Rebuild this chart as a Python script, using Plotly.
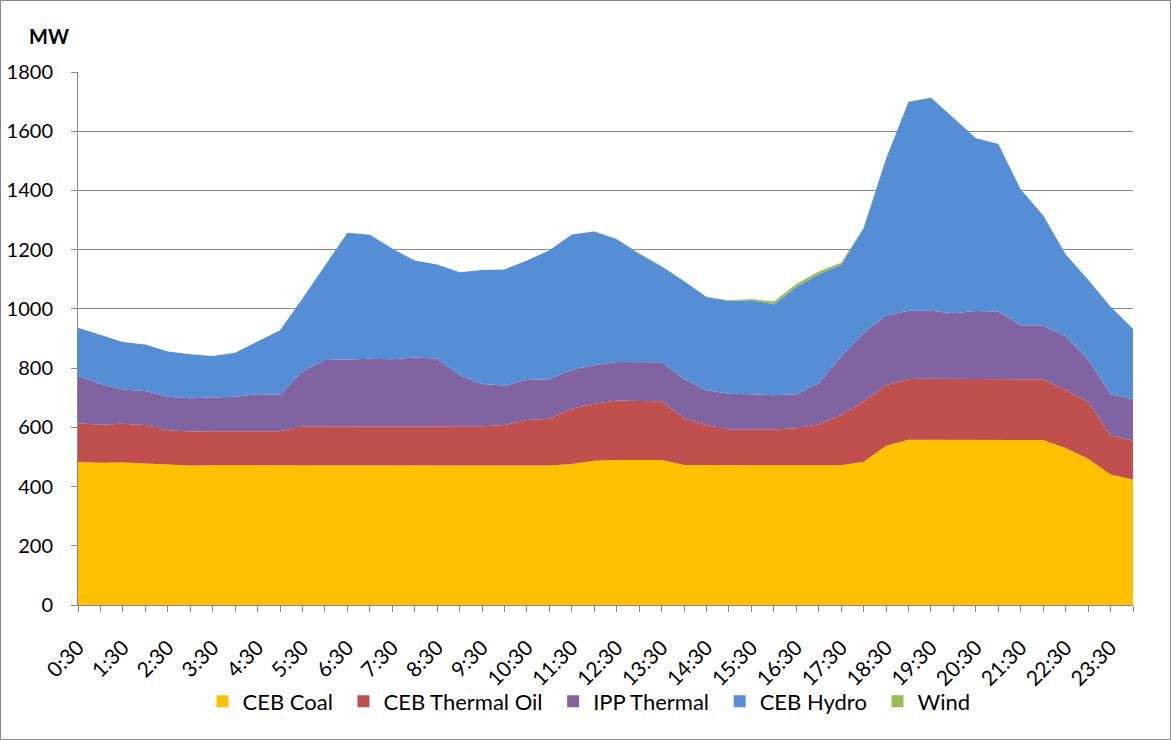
import plotly.graph_objects as go

times = ["0:30", "1:00", "1:30", "2:00", "2:30", "3:00", "3:30", "4:00",
         "4:30", "5:00", "5:30", "6:00", "6:30", "7:00", "7:30", "8:00",
         "8:30", "9:00", "9:30", "10:00", "10:30", "11:00", "11:30", "12:00",
         "12:30", "13:00", "13:30", "14:00", "14:30", "15:00", "15:30", "16:00",
         "16:30", "17:00", "17:30", "18:00", "18:30", "19:00", "19:30", "20:00",
         "20:30", "21:00", "21:30", "22:00", "22:30", "23:00", "23:30", "24:00"]

ceb_coal = [483, 480, 481, 477, 474, 471, 472, 472, 472, 472, 472, 471,
            472, 472, 472, 472, 472, 472, 472, 473, 472, 471, 476, 487,
            490, 490, 490, 473, 472, 472, 472, 472, 472, 472, 472, 484,
            538, 558, 558, 557, 558, 557, 557, 557, 530, 494, 441, 424]

ceb_oil = [131, 129, 131, 131, 116, 115, 115, 115, 115, 115, 131, 132,
           131, 131, 131, 132, 132, 132, 132, 135, 153, 158, 187, 193,
           201, 199, 198, 157, 136, 121, 121, 121, 125, 138, 170, 203,
           204, 205, 206, 206, 206, 205, 205, 205, 196, 192, 132, 131]

ipp_thermal = [160, 137, 116, 115, 113, 112, 114, 116, 125, 123, 185, 224,
               226, 229, 227, 232, 228, 172, 142, 133, 135, 133, 131, 130,
               130, 131, 132, 132, 117, 120, 119, 115, 115, 139, 197, 231,
               236, 231, 230, 222, 229, 229, 183, 181, 182, 142, 139, 140]

ceb_hydro = [162, 165, 160, 157, 153, 149, 140, 149, 178, 218, 247, 321,
             428, 418, 374, 327, 318, 348, 385, 392, 403, 436, 457, 451,
             414, 366, 323, 331, 315, 314, 317, 308, 362, 368, 310, 354,
             530, 705, 719, 660, 583, 566, 458, 372, 276, 270, 295, 238]

wind = [0, 0, 0, 0, 0, 0, 0, 0, 0, 0, 0, 0,
        0, 0, 0, 0, 0, 0, 0, 0, 0, 0, 0, 1,
        2, 2, 2, 2, 1, 2, 4, 9, 10, 9, 7, 3,
        1, 1, 1, 1, 1, 1, 1, 1, 1, 1, 1, 1]

y_ticks = [0, 200, 400, 600, 800, 1000, 1200, 1400, 1600, 1800]

series = [
    ("CEB Coal", ceb_coal, "#FFC000"),
    ("CEB Thermal Oil", ceb_oil, "#C0504D"),
    ("IPP Thermal", ipp_thermal, "#8064A2"),
    ("CEB Hydro", ceb_hydro, "#558ED5"),
    ("Wind", wind, "#9BBB59"),
]

xs = list(range(len(times)))
FONT = "Lato, 'Open Sans', sans-serif"
GREY = "#898989"
PAD = "\u00a0"  # extra spacing between legend entries

fig = go.Figure()
for name, vals, col in series:
    fig.add_trace(go.Scatter(
        x=xs, y=vals, name=name, stackgroup="one", mode="lines",
        line=dict(width=0, color=col), fillcolor=col, showlegend=False,
        customdata=times,
        hovertemplate="%{customdata} " + name + ": %{y} MW<extra></extra>",
    ))
# legend swatches (square markers, as in the original legend)
for k, (name, vals, col) in enumerate(series):
    fig.add_trace(go.Scatter(
        x=[None], y=[None], name=name + (PAD if k < len(series) - 1 else ""),
        mode="markers", marker=dict(symbol="square", size=14, color=col),
        showlegend=True, hoverinfo="skip",
    ))

fig.update_layout(
    width=1171, height=740,
    margin=dict(l=78, r=38, t=72, b=135, autoexpand=False),
    paper_bgcolor="white", plot_bgcolor="white",
    font=dict(family=FONT, size=18, color="black"),
    legend=dict(
        orientation="h", xref="container", yref="container",
        x=0.503, xanchor="center", y=0.052, yanchor="middle",
        font=dict(size=22), itemsizing="constant",
        traceorder="normal", tracegroupgap=0,
        bgcolor="rgba(0,0,0,0)",
    ),
    annotations=[dict(
        text="<b>MW</b>", xref="paper", yref="paper",
        x=(27 - 78) / 1055, y=(605 - 36) / 533, xanchor="left", yanchor="middle",
        showarrow=False, font=dict(size=20, family=FONT),
    )],
    shapes=[dict(
        type="rect", xref="paper", yref="paper",
        x0=(0.5 - 78) / 1055, x1=(1170.5 - 78) / 1055,
        y0=(605 - 739.5) / 533, y1=(605 - 0.5) / 533,
        line=dict(color=GREY, width=1), fillcolor="rgba(0,0,0,0)", layer="below",
    )],
)

fig.update_xaxes(
    range=[0, len(times) - 1], showgrid=False, zeroline=False, automargin=False,
    showline=True, linecolor=GREY, linewidth=1,
    tickmode="array", tickvals=xs[::2], ticktext=times[::2],
    tickangle=-45, ticks="outside", ticklen=6, tickcolor=GREY,
    minor=dict(dtick=1, tick0=0, ticks="outside", ticklen=6, tickcolor=GREY, showgrid=False),
    tickfont=dict(size=21), ticklabelstandoff=15,
)
fig.update_yaxes(
    range=[0, 1800], tickmode="array", tickvals=y_ticks, automargin=False,
    showgrid=True, gridcolor=GREY, gridwidth=1, zeroline=False,
    showline=True, linecolor=GREY, linewidth=1,
    ticks="outside", ticklen=6, tickcolor=GREY,
    tickfont=dict(size=20), ticklabelstandoff=14,
)

fig.write_html("out.html", config={"displayModeBar": False},
               post_script="document.body.style.margin='0px';")
